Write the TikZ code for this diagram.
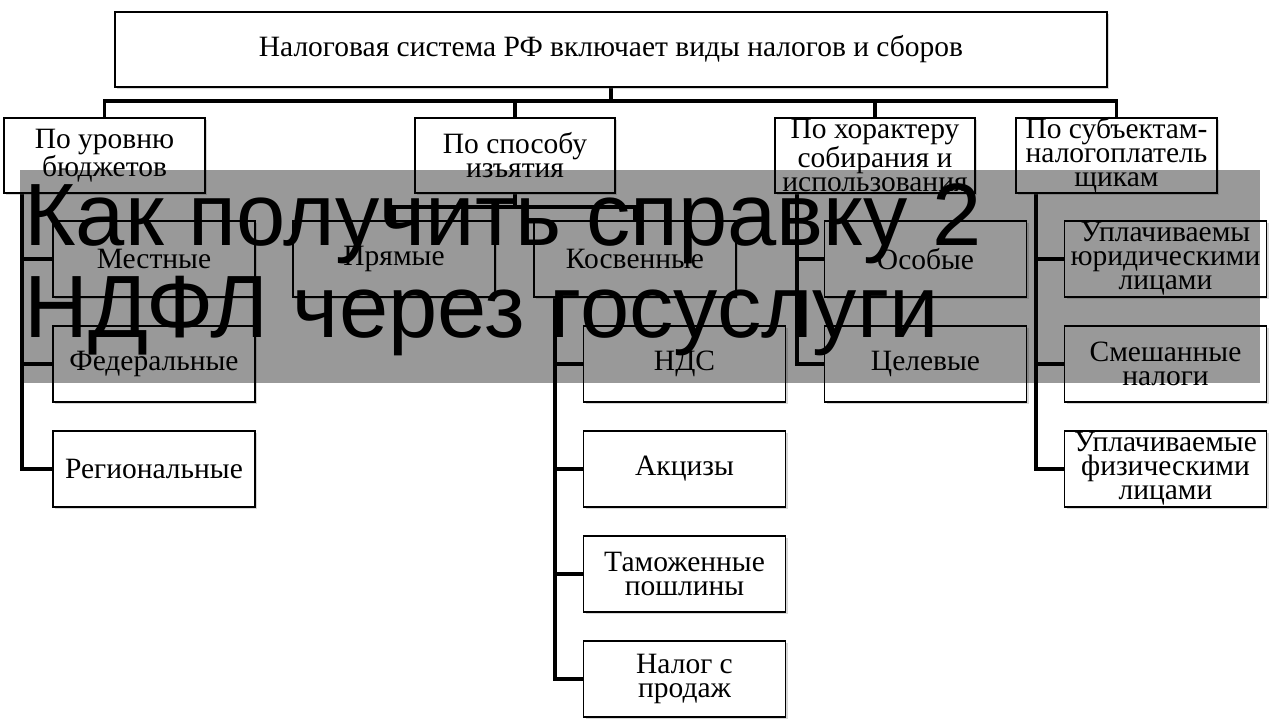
\documentclass[tikz,border=0pt]{standalone}
\usepackage{fontspec}
\setmainfont{Liberation Serif}
\newfontfamily\titlefont{Liberation Sans}
\usetikzlibrary{shadows,backgrounds}
\begin{document}
\begin{tikzpicture}[x=1pt,y=-1pt,
  box/.style={draw=black, line width=1.5pt, fill=white, inner sep=0pt, align=center,
    font=\fontsize{29.5}{24}\selectfont, minimum height=75pt,
    drop shadow={shadow xshift=2pt,shadow yshift=-2pt,opacity=0.3}},
  subbox/.style={box, minimum width=202pt, minimum height=76pt},
  conn/.style={draw=black, line width=3.5pt},
  band/.style={fill=black, fill opacity=0.4},
  title/.style={anchor=base west, inner sep=0pt, font=\titlefont\fontsize{88.5}{96}\selectfont, text=black}
]
\useasboundingbox (0,0) rectangle (1280,720);

% top and category boxes
\node[box, minimum width=992pt] (top) at (611,49.5) {Налоговая система РФ включает виды налогов и сборов};
\node[box, minimum width=201pt] (c1) at (104.5,155.5) {По уровню\\бюджетов};
\node[box, minimum width=200pt] (c2) at (515,155.5) {По способу\\изъятия};
\node[box, minimum width=200pt] (c3) at (875,155.5) {По хорактеру\\собирания и\\использования};
\node[box, minimum width=201pt] (c4) at (1116.5,155.5) {По субъектам-\\налогоплатель\\щикам};

% sub boxes
\node[subbox] (mest) at (154,259) {Местные};
\node[subbox] (fed) at (154,364) {Федеральные};
\node[subbox] (reg) at (154,469) {Региональные};
\node[subbox] (pr) at (394,259) {Прямые};
\node[subbox] (kos) at (635,259) {Косвенные};
\node[subbox] (nds) at (684.5,364) {НДС};
\node[subbox] (akc) at (684.5,469) {Акцизы};
\node[subbox] (tam) at (684.5,574) {Таможенные\\пошлины};
\node[subbox] (nsp) at (684.5,679) {Налог с\\продаж};
\node[subbox] (osob) at (925.5,259) {Особые};
\node[subbox] (cel) at (925.5,364) {Целевые};
\node[subbox] (yur) at (1165.5,259) {Уплачиваемы\\юридическими\\лицами};
\node[subbox] (sme) at (1165.5,364) {Смешанные\\налоги};
\node[subbox] (fiz) at (1165.5,469) {Уплачиваемые\\физическими\\лицами};

\coordinate (bus) at (0,101);
\coordinate (bus2) at (0,207);
\coordinate (v1) at (22,0);
\coordinate (v2) at (555,0);
\coordinate (v3) at (797,0);
\coordinate (v4) at (1036,0);

\begin{scope}[on background layer]
\fill[white] (0,0) rectangle (1280,720);
\draw[conn] (top.south) -- (top.south |- bus);
\draw[conn] (c1.north) -- (c1.north |- bus) -- (c4.north |- bus) -- (c4.north);
\draw[conn] (c2.north |- bus) -- (c2.north);
\draw[conn] (c3.north |- bus) -- (c3.north);
\draw[conn] (c2.south) -- (c2.south |- bus2);
\draw[conn] (pr.north) -- (pr.north |- bus2) -- (kos.north |- bus2) -- (kos.north);
\foreach \n in {mest,fed,reg} \draw[conn] (c1.south -| v1) |- (\n.west);
\foreach \n in {nds,akc,tam,nsp} \draw[conn] (kos.south -| v2) |- (\n.west);
\foreach \n in {osob,cel} \draw[conn] (c3.south -| v3) |- (\n.west);
\foreach \n in {yur,sme,fiz} \draw[conn] (c4.south -| v4) |- (\n.west);
\end{scope}

% overlay band with title
\fill[band] (20,170) rectangle (1260,383);
\node[title] (t1) at (24,245) {Как получить справку 2};
\node[title] (t2) at (24,337) {НДФЛ через госуслуги};
\end{tikzpicture}
\end{document}
